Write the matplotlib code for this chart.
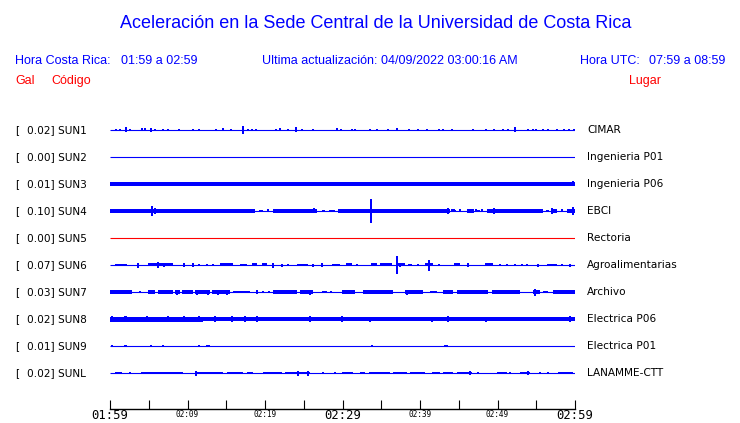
import matplotlib
matplotlib.use("Agg")
import matplotlib.pyplot as plt

# ---- estaciones ----
codigos = ["SUN1", "SUN2", "SUN3", "SUN4", "SUN5", "SUN6", "SUN7", "SUN8", "SUN9", "SUNL"]
escala_gal = [0.02, 0.00, 0.01, 0.10, 0.00, 0.07, 0.03, 0.02, 0.01, 0.02]
lugares = ["CIMAR", "Ingenieria P01", "Ingenieria P06", "EBCI", "Rectoria",
           "Agroalimentarias", "Archivo", "Electrica P06", "Electrica P01", "LANAMME-CTT"]
colores = ["#0000ff", "#0000ff", "#0000ff", "#0000ff", "#ff0000",
           "#0000ff", "#0000ff", "#0000ff", "#0000ff", "#0000ff"]

# eje de tiempo (minutos desde 01:59)
minutos_tick = [0, 5, 10, 15, 20, 25, 30, 35, 40, 45, 50, 55, 60]
minutos_etq = [0, 10, 20, 30, 40, 50, 60]
etiquetas = ["01:59", "02:09", "02:19", "02:29", "02:39", "02:49", "02:59"]
etq_grandes = ["01:59", "02:29", "02:59"]

# ---- señales ----
# tramos de ruido continuo: (min inicio, min fin, semiamplitud en px)
# picos: (minuto, semiamplitud en px)
tramos_sun1 = []
picos_sun1 = [(0.73, 1.3), (1.29, 1.3), (2.06, 2.5), (2.58, 1.3), (4.09, 1.5), (4.52, 1.5),
              (5.25, 1.8), (5.81, 1.0), (6.88, 1.0), (7.53, 1.0), (8.95, 1.0), (10.67, 1.0),
              (11.53, 1.0), (13.68, 1.3), (14.54, 1.5), (15.61, 1.3), (17.12, 3.7), (17.76, 1.0),
              (18.28, 1.0), (18.80, 1.0), (21.42, 1.0), (21.94, 1.5), (23.01, 1.3), (23.96, 2.5),
              (24.73, 1.0), (26.24, 1.0), (29.33, 1.5), (29.76, 1.3), (31.27, 1.0), (31.61, 1.0),
              (33.55, 1.3), (34.41, 1.0), (35.91, 1.0), (36.99, 1.5), (38.62, 1.0), (39.78, 1.0),
              (40.95, 1.0), (42.49, 1.0), (42.92, 1.0), (44.09, 1.0), (46.80, 1.0), (48.52, 1.0),
              (49.55, 1.0), (50.67, 1.0), (51.40, 1.0), (52.30, 2.5), (53.98, 1.3), (54.62, 1.3),
              (54.97, 1.3), (55.83, 1.3), (56.56, 1.0), (57.63, 1.0), (58.62, 1.3), (59.27, 1.0),
              (59.87, 1.3)]

tramos_sun2 = []
picos_sun2 = []

tramos_sun3 = [(0.0, 15.0, 2.0), (15.0, 60.0, 1.8)]
picos_sun3 = [(59.8, 2.5)]

tramos_sun4 = [(0.0, 18.7, 1.7), (19.2, 19.6, 1.3), (20.2, 20.5, 1.3), (21.0, 26.7, 1.7),
               (27.3, 27.6, 1.3), (28.3, 29.0, 1.3), (29.7, 43.9, 1.7), (44.4, 44.6, 1.3),
               (45.0, 45.3, 1.3), (46.1, 47.0, 1.7), (47.4, 47.7, 1.3), (48.6, 55.9, 1.7),
               (56.3, 56.6, 1.3), (57.2, 57.7, 1.7), (58.2, 58.5, 1.3), (59.0, 60.0, 1.7)]
picos_sun4 = [(5.46, 5.0), (5.81, 3.0), (12.82, 1.8), (14.62, 1.8), (15.35, 1.8), (16.26, 2.2),
              (18.28, 1.8), (19.6, 1.2), (20.4, 1.5), (21.38, 1.8), (23.35, 2.2), (24.95, 1.8),
              (25.46, 1.8), (26.37, 2.5), (27.6, 1.2), (29.59, 2.2), (30.54, 1.8), (33.63, 12.0),
              (34.75, 1.8), (43.57, 3.0), (44.09, 1.5), (44.43, 1.5), (45.16, 1.5), (46.37, 1.5),
              (47.23, 1.5), (47.96, 1.5), (49.59, 3.0), (50.97, 1.8), (54.19, 1.5), (55.4, 1.3),
              (57.08, 3.0), (58.28, 1.5), (59.70, 4.0)]

tramos_sun5 = []
picos_sun5 = []

tramos_sun6 = [(0.65, 2.15, 0.8), (4.95, 8.17, 1.5), (14.19, 15.91, 1.5), (16.77, 17.63, 1.3),
               (18.28, 18.92, 1.5), (19.57, 20.22, 1.5), (24.09, 25.59, 1.2), (28.60, 29.68, 1.3),
               (30.45, 31.18, 1.5), (33.63, 34.41, 1.5), (34.84, 36.34, 1.5), (37.20, 38.06, 1.5),
               (38.49, 38.92, 1.3), (40.65, 41.72, 1.5), (44.39, 45.16, 1.5), (48.39, 49.46, 1.5),
               (56.34, 57.63, 1.3)]
picos_sun6 = [(0.9, 1.3), (1.6, 1.3), (3.57, 2.5), (6.24, 3.0), (7.0, 2.0), (9.55, 2.0),
              (10.75, 2.0), (11.53, 1.2), (12.56, 1.2), (13.33, 1.2), (20.99, 2.5), (22.15, 1.5),
              (23.01, 1.2), (26.24, 1.5), (27.31, 1.8), (31.91, 1.2), (36.99, 9.0), (37.4, 2.0),
              (39.78, 1.2), (41.20, 5.5), (42.49, 1.2), (46.24, 2.0), (50.32, 1.2), (51.18, 1.2),
              (52.26, 1.2), (53.12, 1.2), (53.85, 1.2), (55.27, 1.5), (58.28, 1.2), (59.35, 1.5)]

tramos_sun7 = [(0.0, 2.80, 1.8), (4.95, 5.81, 1.8), (6.24, 8.17, 1.8), (8.39, 9.03, 1.8),
               (9.25, 10.75, 1.8), (10.97, 12.90, 1.8), (13.12, 15.48, 1.8), (15.91, 18.06, 1.5),
               (21.08, 24.09, 1.6), (24.52, 26.24, 1.8), (27.31, 27.96, 1.5), (29.89, 31.61, 1.6),
               (32.69, 36.56, 1.6), (38.06, 40.43, 1.6), (41.29, 42.15, 1.5), (43.01, 44.30, 1.8),
               (44.73, 48.60, 1.6), (49.25, 52.90, 1.6), (54.62, 55.48, 1.6), (55.91, 56.56, 1.5),
               (57.20, 60.0, 1.8)]
picos_sun7 = [(2.58, 2.2), (3.9, 1.0), (8.69, 2.5), (11.18, 2.5), (12.69, 2.5), (13.98, 2.5),
              (15.05, 2.5), (18.92, 2.2), (19.8, 1.0), (20.5, 1.0), (25.81, 2.5), (28.5, 1.0),
              (38.28, 2.5), (41.7, 1.0), (43.66, 2.2), (48.60, 2.2), (52.26, 2.2), (54.84, 3.5),
              (59.5, 2.2)]

tramos_sun8 = [(0.0, 12.0, 2.5), (12.0, 60.0, 2.2)]
picos_sun8 = [(0.3, 2.8), (2.0, 2.8), (4.73, 3.0), (7.5, 2.8), (9.5, 2.8), (11.5, 2.7),
              (13.5, 2.7), (15.7, 2.7), (17.4, 2.7), (19.0, 2.7), (25.81, 2.6), (29.89, 2.6),
              (33.6, 2.5), (41.5, 2.5), (43.6, 2.7), (48.5, 2.5), (59.35, 2.8)]

tramos_sun9 = []
picos_sun9 = [(0.3, 1.0), (2.0, 1.0), (5.25, 1.0), (6.8, 1.0), (11.53, 1.0), (12.56, 1.0),
              (12.82, 1.0), (33.76, 1.0), (43.23, 1.0), (43.44, 1.0)]

tramos_sunl = [(0.65, 1.51, 1.0), (3.96, 9.46, 1.3), (10.97, 14.62, 1.3), (15.05, 17.20, 1.1),
               (17.63, 18.49, 1.1), (19.78, 22.15, 1.3), (22.58, 25.81, 1.4), (29.89, 31.40, 1.3),
               (32.26, 32.90, 1.3), (33.46, 36.13, 1.3), (36.56, 38.28, 1.1), (38.71, 40.65, 1.1),
               (41.51, 42.58, 1.1), (43.01, 44.30, 1.1), (44.73, 46.67, 1.3), (49.89, 51.18, 1.1),
               (52.90, 54.19, 1.3), (57.85, 59.78, 1.3)]
picos_sunl = [(2.58, 1.2), (11.10, 2.5), (24.30, 2.5), (25.59, 2.5), (27.53, 1.2), (29.03, 1.0),
              (46.45, 2.0), (47.53, 1.0), (51.61, 1.0), (53.98, 2.0), (55.48, 1.0), (56.56, 1.0)]

tramos = [tramos_sun1, tramos_sun2, tramos_sun3, tramos_sun4, tramos_sun5,
          tramos_sun6, tramos_sun7, tramos_sun8, tramos_sun9, tramos_sunl]
picos = [picos_sun1, picos_sun2, picos_sun3, picos_sun4, picos_sun5,
         picos_sun6, picos_sun7, picos_sun8, picos_sun9, picos_sunl]

# ---- figura ----
W, H = 740, 423
fig = plt.figure(figsize=(W / 100, H / 100), dpi=100)
azul = "#0000ff"
rojo = "#ff0000"

fig.text(376 / W, 1 - 23 / H, "Aceleración en la Sede Central de la Universidad de Costa Rica",
         family="Liberation Sans", fontsize=13, color=azul, ha="center", va="center")

enc = dict(family="Liberation Sans", fontsize=9, color=azul, va="center")
fig.text(15 / W, 1 - 61 / H, "Hora Costa Rica:", ha="left", **enc)
fig.text(121 / W, 1 - 61 / H, "01:59 a 02:59", ha="left", **enc)
fig.text(262 / W, 1 - 61 / H, "Ultima actualización:", ha="left", **enc)
fig.text(381 / W, 1 - 61 / H, "04/09/2022 03:00:16 AM", ha="left", **enc)
fig.text(580 / W, 1 - 61 / H, "Hora UTC:", ha="left", **enc)
fig.text(725 / W, 1 - 61 / H, "07:59 a 08:59", ha="right", **enc)
enc["color"] = rojo
fig.text(15 / W, 1 - 81 / H, "Gal", ha="left", **enc)
fig.text(51 / W, 1 - 81 / H, "Código", ha="left", **enc)
fig.text(629 / W, 1 - 81 / H, "Lugar", ha="left", **enc)

# trazas: una fila cada 27 px, de y=130 a y=373
x0, x1 = 110, 575
fila = 27.0
ax = fig.add_axes([x0 / W, 1 - (130 + 9.5 * fila) / H, (x1 - x0) / W, 10 * fila / H])
ax.set_xlim(0, 60)
ax.set_ylim(-9.5, 0.5)
ax.axis("off")

for i, cod in enumerate(codigos):
    y = -i
    c = colores[i]
    ax.hlines(y, 0, 60, color=c, linewidth=0.8)
    for t0, t1, a in tramos[i]:
        ax.fill_between([t0, t1], y - a / fila, y + a / fila, color=c, linewidth=0,
                        antialiased=False)
    for t, a in picos[i]:
        ax.bar(t, 2 * a / fila, bottom=y - a / fila, width=0.26, color=c, linewidth=0,
               antialiased=False)

    yf = 1 - (130 + i * fila) / H
    fig.text(15 / W, yf, "[", fontsize=7.6, ha="left", va="center")
    fig.text(27 / W, yf, f"{escala_gal[i]:.2f}] {cod}", fontsize=7.6, ha="left", va="center")
    fig.text(587 / W, yf, lugares[i], fontsize=7.6, ha="left", va="center")

# eje de tiempo
ax_t = fig.add_axes([x0 / W, 1 - 409 / H, (x1 - x0) / W, 0.02])
ax_t.set_xlim(0, 60)
ax_t.set_ylim(0, 1)
for s in ["top", "left", "right"]:
    ax_t.spines[s].set_visible(False)
ax_t.spines["bottom"].set_linewidth(1.0)
ax_t.set_yticks([])
ax_t.set_xticks(minutos_tick)
ax_t.set_xticklabels([""] * len(minutos_tick))
ax_t.tick_params(axis="x", direction="in", length=6.5, width=0.8, color="black")
ax_t.patch.set_alpha(0)

for m, etq in zip(minutos_etq, etiquetas):
    if etq in etq_grandes:
        fig.text((x0 + m * (x1 - x0) / 60) / W, 1 - 415.5 / H, etq, family="DejaVu Sans Mono",
                 fontsize=8.8, ha="center", va="center")
    else:
        fig.text((x0 + m * (x1 - x0) / 60) / W, 1 - 414 / H, etq, family="DejaVu Sans Mono",
                 fontsize=5.6, ha="center", va="center")

fig.savefig("out.png", dpi=100)
